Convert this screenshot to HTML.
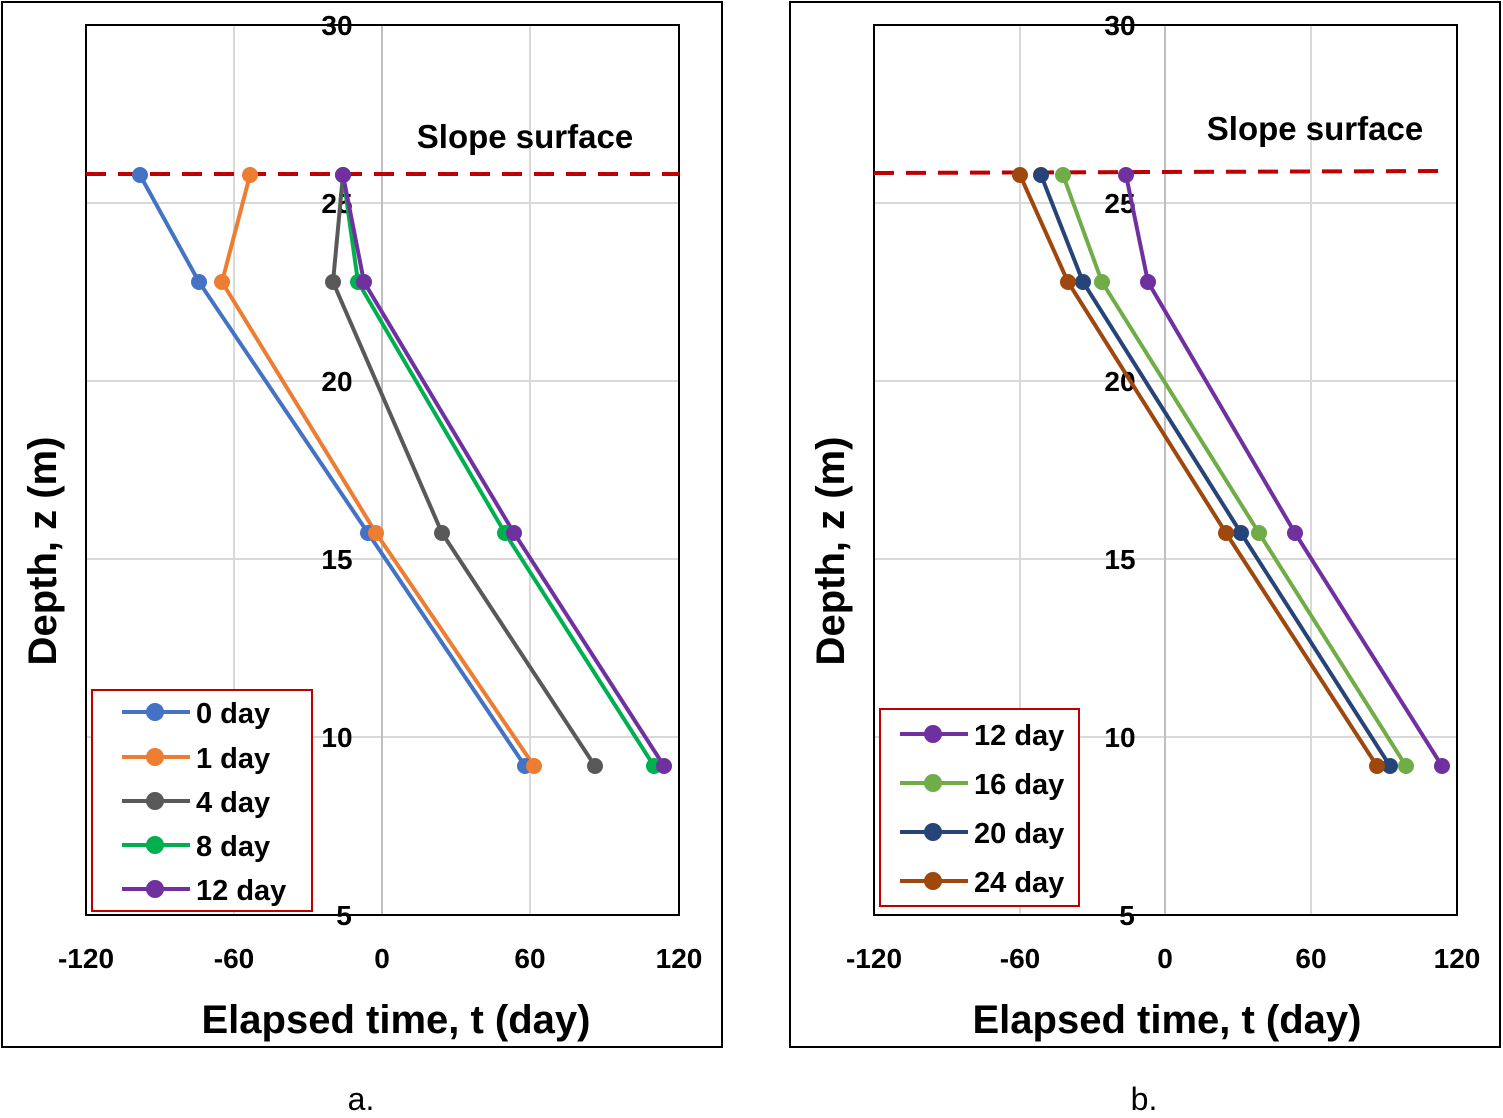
<!DOCTYPE html>
<html><head><meta charset="utf-8"><style>
body{margin:0;background:#fff}
svg text{font-family:"Liberation Sans",Arial,sans-serif}
</style></head><body>
<svg width="1503" height="1113" viewBox="0 0 1503 1113" xmlns="http://www.w3.org/2000/svg">
<rect width="1503" height="1113" fill="#fff"/>
<!-- LEFT PANEL -->
<rect x="2" y="2" width="720" height="1045" fill="none" stroke="#000" stroke-width="2"/>
<g stroke="#d9d9d9" stroke-width="2">
<line x1="234" y1="25" x2="234" y2="915"/><line x1="530" y1="25" x2="530" y2="915"/>
<line x1="86" y1="203" x2="679" y2="203"/><line x1="86" y1="381" x2="679" y2="381"/>
<line x1="86" y1="559" x2="679" y2="559"/><line x1="86" y1="737" x2="679" y2="737"/>
</g>
<line x1="382" y1="25" x2="382" y2="915" stroke="#bfbfbf" stroke-width="2"/>
<rect x="86" y="25" width="593" height="890" fill="none" stroke="#000" stroke-width="2"/>
<g font-size="28" font-weight="bold" text-anchor="middle">
<text x="337" y="35">30</text><text x="337" y="213">25</text><text x="337" y="391">20</text>
<text x="337" y="569">15</text><text x="337" y="747">10</text><text x="344" y="925">5</text>
<text x="86" y="968">-120</text><text x="234" y="968">-60</text><text x="382" y="968">0</text>
<text x="530" y="968">60</text><text x="679" y="968">120</text>
</g>
<text x="396" y="1033" font-size="40" font-weight="bold" text-anchor="middle">Elapsed time, t (day)</text>
<text transform="translate(56,551) rotate(-90)" font-size="40" font-weight="bold" text-anchor="middle">Depth, z (m)</text>
<text x="525" y="148" font-size="33" font-weight="bold" text-anchor="middle">Slope surface</text>
<line x1="86" y1="174" x2="679" y2="174" stroke="#c00000" stroke-width="4" stroke-dasharray="20,12"/>
<g fill="none" stroke-width="4">
<polyline stroke="#4472C4" points="140,175 199,282 368,533 525,766"/>
<polyline stroke="#ED7D31" points="250,175 222,282 376,533 534,766"/>
<polyline stroke="#595959" points="343,175 333,282 442,533 595,766"/>
<polyline stroke="#00B050" points="343,175 358,282 505,533 654,766"/>
<polyline stroke="#7030A0" points="343,175 364,282 514,533 664,766"/>
</g>
<g fill="#4472C4"><circle cx="140" cy="175" r="8"/><circle cx="199" cy="282" r="8"/><circle cx="368" cy="533" r="8"/><circle cx="525" cy="766" r="8"/></g>
<g fill="#ED7D31"><circle cx="250" cy="175" r="8"/><circle cx="222" cy="282" r="8"/><circle cx="376" cy="533" r="8"/><circle cx="534" cy="766" r="8"/></g>
<g fill="#595959"><circle cx="343" cy="175" r="8"/><circle cx="333" cy="282" r="8"/><circle cx="442" cy="533" r="8"/><circle cx="595" cy="766" r="8"/></g>
<g fill="#00B050"><circle cx="343" cy="175" r="8"/><circle cx="358" cy="282" r="8"/><circle cx="505" cy="533" r="8"/><circle cx="654" cy="766" r="8"/></g>
<g fill="#7030A0"><circle cx="343" cy="175" r="8"/><circle cx="364" cy="282" r="8"/><circle cx="514" cy="533" r="8"/><circle cx="664" cy="766" r="8"/></g>
<rect x="92" y="690" width="220" height="221" fill="#fff" stroke="#c00000" stroke-width="2"/>
<g stroke-width="4" font-size="29" font-weight="bold">
<line x1="122" y1="712" x2="190" y2="712" stroke="#4472C4"/><circle cx="155" cy="712" r="9" fill="#4472C4"/><text x="196" y="723">0 day</text>
<line x1="122" y1="757" x2="190" y2="757" stroke="#ED7D31"/><circle cx="155" cy="757" r="9" fill="#ED7D31"/><text x="196" y="768">1 day</text>
<line x1="122" y1="801" x2="190" y2="801" stroke="#595959"/><circle cx="155" cy="801" r="9" fill="#595959"/><text x="196" y="812">4 day</text>
<line x1="122" y1="845" x2="190" y2="845" stroke="#00B050"/><circle cx="155" cy="845" r="9" fill="#00B050"/><text x="196" y="856">8 day</text>
<line x1="122" y1="889" x2="190" y2="889" stroke="#7030A0"/><circle cx="155" cy="889" r="9" fill="#7030A0"/><text x="196" y="900">12 day</text>
</g>
<text x="361" y="1110" font-size="32" text-anchor="middle">a.</text>

<!-- RIGHT PANEL -->
<rect x="790" y="2" width="710" height="1045" fill="none" stroke="#000" stroke-width="2"/>
<g stroke="#d9d9d9" stroke-width="2">
<line x1="1020" y1="25" x2="1020" y2="915"/><line x1="1311" y1="25" x2="1311" y2="915"/>
<line x1="874" y1="203" x2="1457" y2="203"/><line x1="874" y1="381" x2="1457" y2="381"/>
<line x1="874" y1="559" x2="1457" y2="559"/><line x1="874" y1="737" x2="1457" y2="737"/>
</g>
<line x1="1165" y1="25" x2="1165" y2="915" stroke="#bfbfbf" stroke-width="2"/>
<rect x="874" y="25" width="583" height="890" fill="none" stroke="#000" stroke-width="2"/>
<g font-size="28" font-weight="bold" text-anchor="middle">
<text x="1120" y="35">30</text><text x="1120" y="213">25</text><text x="1120" y="391">20</text>
<text x="1120" y="569">15</text><text x="1120" y="747">10</text><text x="1127" y="925">5</text>
<text x="874" y="968">-120</text><text x="1020" y="968">-60</text><text x="1165" y="968">0</text>
<text x="1311" y="968">60</text><text x="1457" y="968">120</text>
</g>
<text x="1167" y="1033" font-size="40" font-weight="bold" text-anchor="middle">Elapsed time, t (day)</text>
<text transform="translate(844,551) rotate(-90)" font-size="40" font-weight="bold" text-anchor="middle">Depth, z (m)</text>
<text x="1315" y="140" font-size="33" font-weight="bold" text-anchor="middle">Slope surface</text>
<line x1="874" y1="173" x2="1444" y2="171" stroke="#c00000" stroke-width="4" stroke-dasharray="20,12"/>
<g fill="none" stroke-width="4">
<polyline stroke="#7030A0" points="1126,175 1148,282 1295,533 1442,766"/>
<polyline stroke="#70AD47" points="1063,175 1102,282 1259,533 1406,766"/>
<polyline stroke="#264478" points="1041,175 1083,282 1241,533 1390,766"/>
<polyline stroke="#9E480E" points="1020,175 1068,282 1226,533 1377,766"/>
</g>
<g fill="#7030A0"><circle cx="1126" cy="175" r="8"/><circle cx="1148" cy="282" r="8"/><circle cx="1295" cy="533" r="8"/><circle cx="1442" cy="766" r="8"/></g>
<g fill="#70AD47"><circle cx="1063" cy="175" r="8"/><circle cx="1102" cy="282" r="8"/><circle cx="1259" cy="533" r="8"/><circle cx="1406" cy="766" r="8"/></g>
<g fill="#264478"><circle cx="1041" cy="175" r="8"/><circle cx="1083" cy="282" r="8"/><circle cx="1241" cy="533" r="8"/><circle cx="1390" cy="766" r="8"/></g>
<g fill="#9E480E"><circle cx="1020" cy="175" r="8"/><circle cx="1068" cy="282" r="8"/><circle cx="1226" cy="533" r="8"/><circle cx="1377" cy="766" r="8"/></g>
<rect x="880" y="709" width="199" height="197" fill="#fff" stroke="#c00000" stroke-width="2"/>
<g stroke-width="4" font-size="29" font-weight="bold">
<line x1="900" y1="734" x2="968" y2="734" stroke="#7030A0"/><circle cx="933" cy="734" r="9" fill="#7030A0"/><text x="974" y="745">12 day</text>
<line x1="900" y1="783" x2="968" y2="783" stroke="#70AD47"/><circle cx="933" cy="783" r="9" fill="#70AD47"/><text x="974" y="794">16 day</text>
<line x1="900" y1="832" x2="968" y2="832" stroke="#264478"/><circle cx="933" cy="832" r="9" fill="#264478"/><text x="974" y="843">20 day</text>
<line x1="900" y1="881" x2="968" y2="881" stroke="#9E480E"/><circle cx="933" cy="881" r="9" fill="#9E480E"/><text x="974" y="892">24 day</text>
</g>
<text x="1144" y="1110" font-size="32" text-anchor="middle">b.</text>
</svg>
</body></html>
